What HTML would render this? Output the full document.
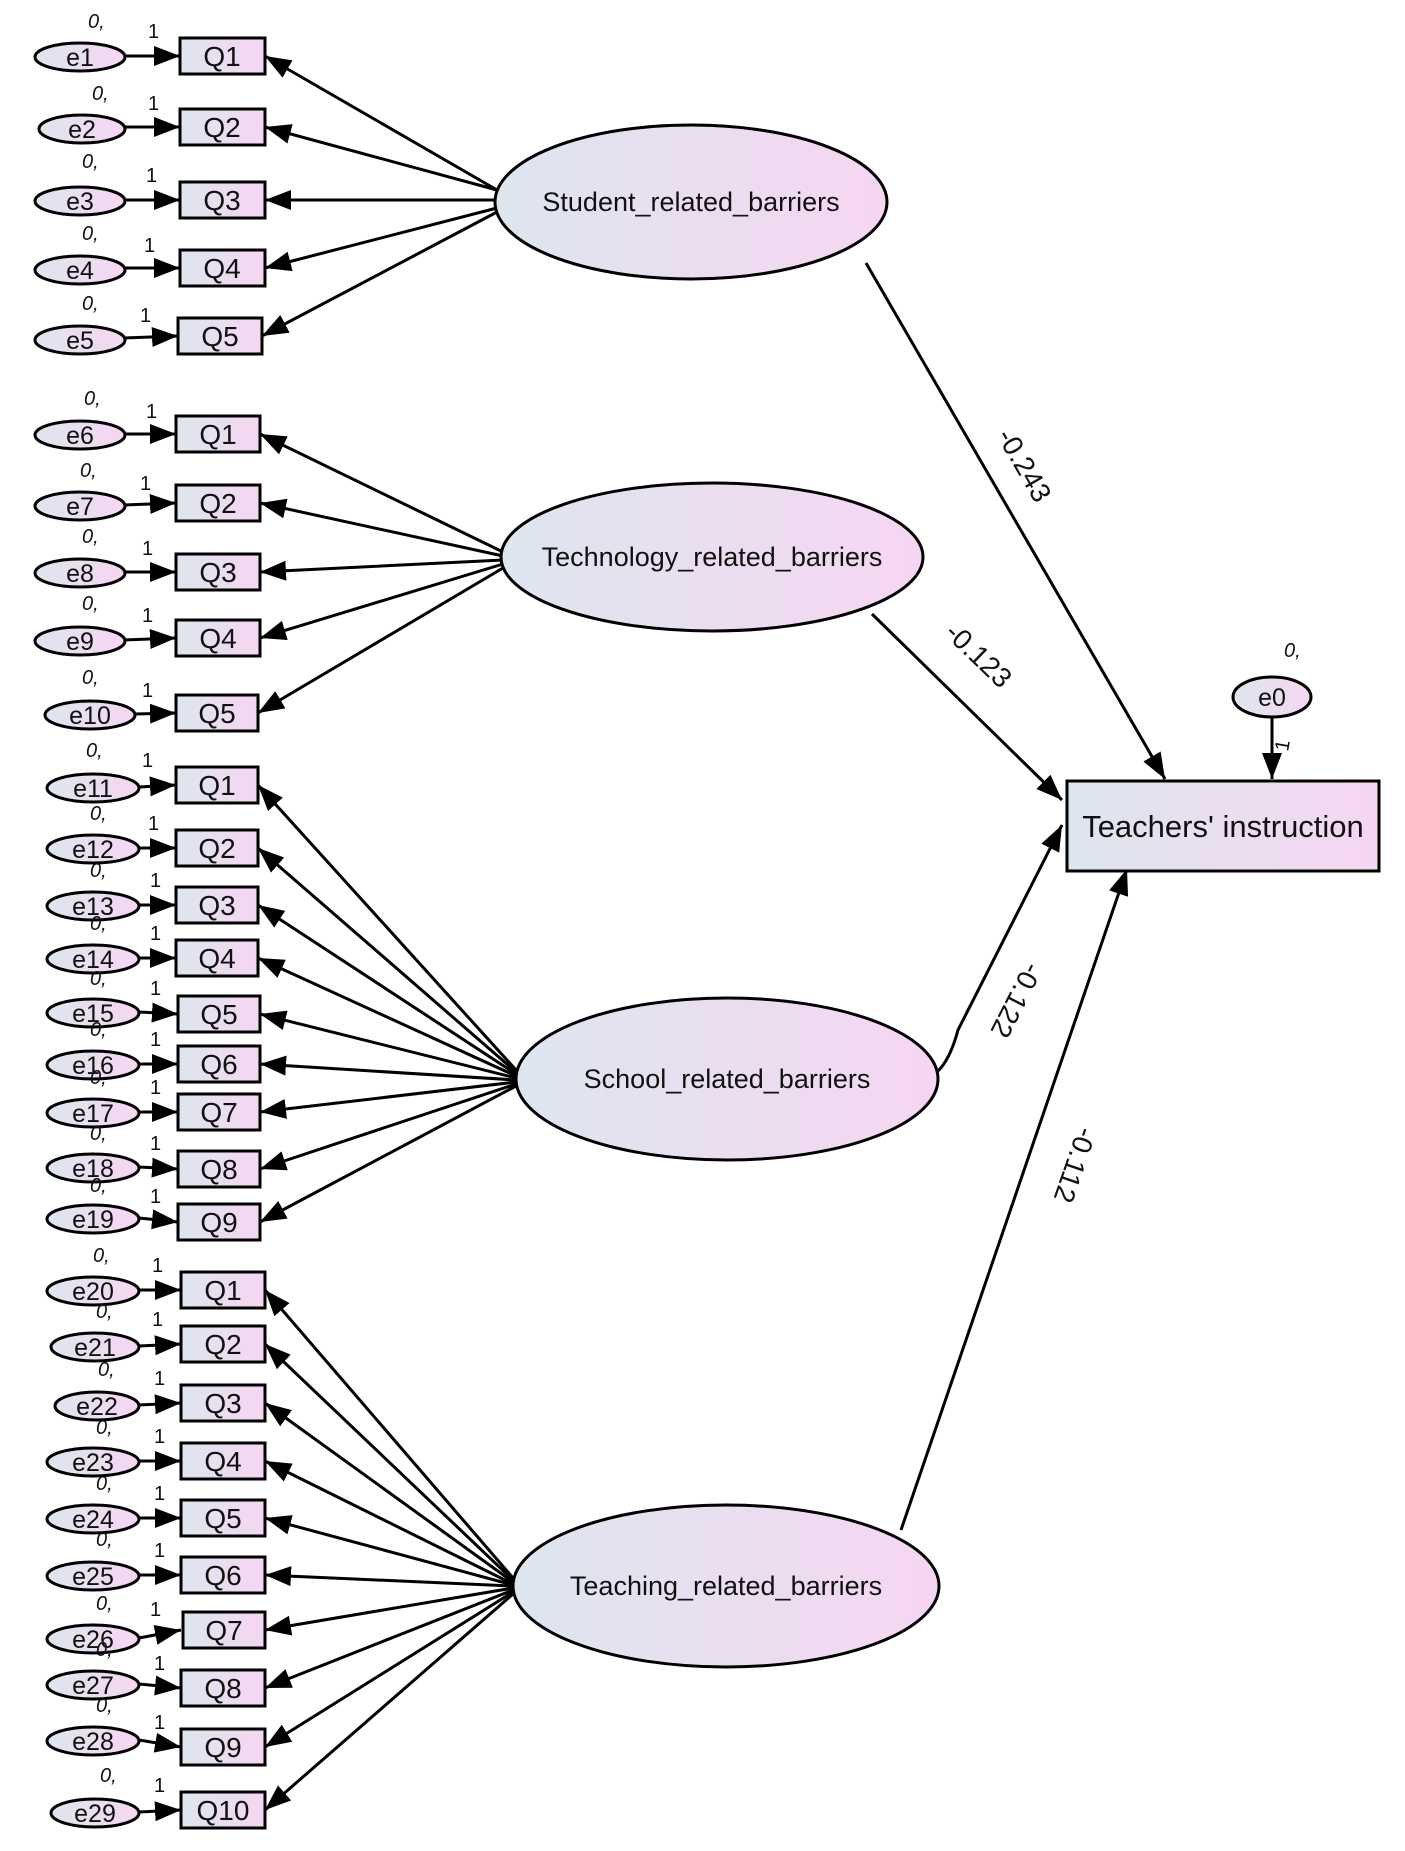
<!DOCTYPE html>
<html><head><meta charset="utf-8"><style>body{margin:0;background:#fff}svg{display:block}text{font-family:"Liberation Sans",sans-serif;fill:#111}</style></head><body>
<svg width="1405" height="1851" viewBox="0 0 1405 1851" xmlns="http://www.w3.org/2000/svg">
<defs>
<linearGradient id="g" x1="0" x2="1" y1="0" y2="0"><stop offset="0" stop-color="#dde6ee"/><stop offset="1" stop-color="#f6d6f2"/></linearGradient>
<marker id="a" markerUnits="userSpaceOnUse" markerWidth="28" markerHeight="22" refX="26" refY="10" orient="auto"><path d="M0,0 L26,10 L0,20 z" fill="#000"/></marker>
</defs>
<g stroke="#000" stroke-width="3" fill="none">
<line x1="497" y1="190" x2="265" y2="56" marker-end="url(#a)"/>
<line x1="497" y1="190" x2="265" y2="127" marker-end="url(#a)"/>
<line x1="497" y1="200" x2="265" y2="200" marker-end="url(#a)"/>
<line x1="497" y1="208" x2="265" y2="268" marker-end="url(#a)"/>
<line x1="497" y1="212" x2="262" y2="336" marker-end="url(#a)"/>
<line x1="503" y1="552" x2="260" y2="434" marker-end="url(#a)"/>
<line x1="503" y1="556" x2="260" y2="503" marker-end="url(#a)"/>
<line x1="503" y1="560" x2="260" y2="572" marker-end="url(#a)"/>
<line x1="503" y1="564" x2="260" y2="638" marker-end="url(#a)"/>
<line x1="503" y1="568" x2="258" y2="713" marker-end="url(#a)"/>
<line x1="516" y1="1070" x2="258" y2="785" marker-end="url(#a)"/>
<line x1="516" y1="1072" x2="258" y2="848" marker-end="url(#a)"/>
<line x1="516" y1="1074" x2="258" y2="905" marker-end="url(#a)"/>
<line x1="516" y1="1076" x2="258" y2="958" marker-end="url(#a)"/>
<line x1="516" y1="1078" x2="260" y2="1014" marker-end="url(#a)"/>
<line x1="516" y1="1080" x2="260" y2="1064" marker-end="url(#a)"/>
<line x1="516" y1="1082" x2="260" y2="1112" marker-end="url(#a)"/>
<line x1="516" y1="1084" x2="260" y2="1169" marker-end="url(#a)"/>
<line x1="516" y1="1086" x2="260" y2="1222" marker-end="url(#a)"/>
<line x1="513" y1="1578" x2="265" y2="1290" marker-end="url(#a)"/>
<line x1="513" y1="1580" x2="265" y2="1344" marker-end="url(#a)"/>
<line x1="513" y1="1582" x2="265" y2="1403" marker-end="url(#a)"/>
<line x1="513" y1="1584" x2="265" y2="1461" marker-end="url(#a)"/>
<line x1="513" y1="1585" x2="265" y2="1518" marker-end="url(#a)"/>
<line x1="513" y1="1586" x2="265" y2="1575" marker-end="url(#a)"/>
<line x1="513" y1="1588" x2="265" y2="1630" marker-end="url(#a)"/>
<line x1="513" y1="1590" x2="265" y2="1688" marker-end="url(#a)"/>
<line x1="513" y1="1592" x2="265" y2="1747" marker-end="url(#a)"/>
<line x1="513" y1="1594" x2="265" y2="1810" marker-end="url(#a)"/>
<line x1="866" y1="263" x2="1165" y2="779" marker-end="url(#a)"/>
<line x1="872" y1="614" x2="1062" y2="800" marker-end="url(#a)"/>
<path d="M937,1072 Q950,1060 958,1030 L1062,825" marker-end="url(#a)"/>
<line x1="901" y1="1530" x2="1127" y2="869" marker-end="url(#a)"/>
<line x1="1272" y1="717" x2="1272" y2="779" marker-end="url(#a)"/>
<line x1="125" y1="56" x2="180" y2="56" marker-end="url(#a)"/>
<line x1="125" y1="127" x2="180" y2="127" marker-end="url(#a)"/>
<line x1="125" y1="200" x2="180" y2="200" marker-end="url(#a)"/>
<line x1="125" y1="268" x2="180" y2="268" marker-end="url(#a)"/>
<line x1="125" y1="338" x2="178" y2="336" marker-end="url(#a)"/>
<line x1="125" y1="434" x2="176" y2="434" marker-end="url(#a)"/>
<line x1="125" y1="505" x2="176" y2="503" marker-end="url(#a)"/>
<line x1="125" y1="572" x2="176" y2="572" marker-end="url(#a)"/>
<line x1="125" y1="640" x2="176" y2="638" marker-end="url(#a)"/>
<line x1="135" y1="714" x2="176" y2="713" marker-end="url(#a)"/>
<line x1="139" y1="787" x2="176" y2="785" marker-end="url(#a)"/>
<line x1="139" y1="848" x2="176" y2="848" marker-end="url(#a)"/>
<line x1="139" y1="905" x2="176" y2="905" marker-end="url(#a)"/>
<line x1="139" y1="958" x2="176" y2="958" marker-end="url(#a)"/>
<line x1="139" y1="1012" x2="178" y2="1014" marker-end="url(#a)"/>
<line x1="139" y1="1064" x2="178" y2="1064" marker-end="url(#a)"/>
<line x1="139" y1="1112" x2="178" y2="1112" marker-end="url(#a)"/>
<line x1="139" y1="1167" x2="178" y2="1169" marker-end="url(#a)"/>
<line x1="139" y1="1218" x2="178" y2="1222" marker-end="url(#a)"/>
<line x1="139" y1="1290" x2="181" y2="1290" marker-end="url(#a)"/>
<line x1="139" y1="1346" x2="181" y2="1344" marker-end="url(#a)"/>
<line x1="139" y1="1405" x2="181" y2="1403" marker-end="url(#a)"/>
<line x1="139" y1="1461" x2="181" y2="1461" marker-end="url(#a)"/>
<line x1="139" y1="1518" x2="181" y2="1518" marker-end="url(#a)"/>
<line x1="139" y1="1575" x2="181" y2="1575" marker-end="url(#a)"/>
<line x1="139" y1="1638" x2="181" y2="1630" marker-end="url(#a)"/>
<line x1="139" y1="1684" x2="181" y2="1688" marker-end="url(#a)"/>
<line x1="139" y1="1740" x2="181" y2="1747" marker-end="url(#a)"/>
<line x1="139" y1="1812" x2="181" y2="1810" marker-end="url(#a)"/>
</g>
<g stroke="#000" stroke-width="3" fill="url(#g)">
<rect x="180" y="38" width="85" height="36"/><rect x="180" y="109" width="85" height="36"/><rect x="180" y="182" width="85" height="36"/><rect x="180" y="250" width="85" height="36"/><rect x="178" y="318" width="84" height="36"/>
<rect x="176" y="416" width="84" height="36"/><rect x="176" y="485" width="84" height="36"/><rect x="176" y="554" width="84" height="36"/><rect x="176" y="620" width="84" height="36"/><rect x="176" y="695" width="82" height="36"/>
<rect x="176" y="767" width="82" height="36"/><rect x="176" y="830" width="82" height="36"/><rect x="176" y="887" width="82" height="36"/><rect x="176" y="940" width="82" height="36"/><rect x="178" y="996" width="82" height="36"/><rect x="178" y="1046" width="82" height="36"/><rect x="178" y="1094" width="82" height="36"/><rect x="178" y="1151" width="82" height="36"/><rect x="178" y="1204" width="82" height="36"/>
<rect x="181" y="1272" width="84" height="36"/><rect x="181" y="1326" width="84" height="36"/><rect x="181" y="1385" width="84" height="36"/><rect x="181" y="1443" width="84" height="36"/><rect x="181" y="1500" width="84" height="36"/><rect x="181" y="1557" width="84" height="36"/><rect x="183" y="1612" width="82" height="36"/><rect x="181" y="1670" width="84" height="36"/><rect x="181" y="1729" width="84" height="36"/><rect x="181" y="1792" width="84" height="36"/>
<rect x="1067" y="781" width="312" height="90"/>
<ellipse cx="691" cy="202" rx="196" ry="77"/>
<ellipse cx="712" cy="557" rx="211" ry="74"/>
<ellipse cx="727" cy="1079" rx="211" ry="81"/>
<ellipse cx="726" cy="1586" rx="213" ry="81"/>
<ellipse cx="1272" cy="697" rx="39" ry="20"/>
<ellipse cx="80" cy="57" rx="45" ry="14"/><ellipse cx="82" cy="129" rx="43" ry="14"/><ellipse cx="80" cy="201" rx="45" ry="14"/><ellipse cx="80" cy="270" rx="45" ry="14"/><ellipse cx="80" cy="340" rx="45" ry="14"/>
<ellipse cx="80" cy="435" rx="45" ry="14"/><ellipse cx="80" cy="506" rx="45" ry="14"/><ellipse cx="80" cy="573" rx="45" ry="14"/><ellipse cx="80" cy="641" rx="45" ry="14"/><ellipse cx="90" cy="715" rx="45" ry="14"/>
<ellipse cx="93" cy="788" rx="46" ry="14"/><ellipse cx="93" cy="849" rx="46" ry="14"/><ellipse cx="93" cy="906" rx="46" ry="14"/><ellipse cx="93" cy="959" rx="46" ry="14"/><ellipse cx="93" cy="1013" rx="46" ry="14"/><ellipse cx="93" cy="1065" rx="46" ry="14"/><ellipse cx="93" cy="1113" rx="46" ry="14"/><ellipse cx="93" cy="1168" rx="46" ry="14"/><ellipse cx="93" cy="1219" rx="46" ry="14"/>
<ellipse cx="93" cy="1291" rx="46" ry="14"/><ellipse cx="95" cy="1347" rx="44" ry="14"/><ellipse cx="97" cy="1406" rx="42" ry="14"/><ellipse cx="93" cy="1462" rx="46" ry="14"/><ellipse cx="93" cy="1519" rx="46" ry="14"/><ellipse cx="93" cy="1576" rx="46" ry="14"/><ellipse cx="93" cy="1639" rx="46" ry="14"/><ellipse cx="93" cy="1685" rx="46" ry="14"/><ellipse cx="93" cy="1741" rx="46" ry="14"/><ellipse cx="95" cy="1813" rx="44" ry="14"/>
</g>
<g font-size="28" text-anchor="middle">
<text x="222" y="66">Q1</text><text x="222" y="137">Q2</text><text x="222" y="210">Q3</text><text x="222" y="278">Q4</text><text x="220" y="346">Q5</text>
<text x="218" y="444">Q1</text><text x="218" y="513">Q2</text><text x="218" y="582">Q3</text><text x="218" y="648">Q4</text><text x="217" y="723">Q5</text>
<text x="217" y="795">Q1</text><text x="217" y="858">Q2</text><text x="217" y="915">Q3</text><text x="217" y="968">Q4</text><text x="219" y="1024">Q5</text><text x="219" y="1074">Q6</text><text x="219" y="1122">Q7</text><text x="219" y="1179">Q8</text><text x="219" y="1232">Q9</text>
<text x="223" y="1300">Q1</text><text x="223" y="1354">Q2</text><text x="223" y="1413">Q3</text><text x="223" y="1471">Q4</text><text x="223" y="1528">Q5</text><text x="223" y="1585">Q6</text><text x="224" y="1640">Q7</text><text x="223" y="1698">Q8</text><text x="223" y="1757">Q9</text><text x="223" y="1820">Q10</text>
<text x="1223" y="837" font-size="31">Teachers' instruction</text>
<text x="691" y="211" font-size="27">Student_related_barriers</text>
<text x="712" y="566" font-size="27">Technology_related_barriers</text>
<text x="727" y="1088" font-size="27">School_related_barriers</text>
<text x="726" y="1595" font-size="27">Teaching_related_barriers</text>
</g>
<g font-size="25" text-anchor="middle">
<text x="1272" y="706">e0</text>
<text x="80" y="66">e1</text><text x="82" y="138">e2</text><text x="80" y="210">e3</text><text x="80" y="279">e4</text><text x="80" y="349">e5</text>
<text x="80" y="444">e6</text><text x="80" y="515">e7</text><text x="80" y="582">e8</text><text x="80" y="650">e9</text><text x="90" y="724">e10</text>
<text x="93" y="797">e11</text><text x="93" y="858">e12</text><text x="93" y="915">e13</text><text x="93" y="968">e14</text><text x="93" y="1022">e15</text><text x="93" y="1074">e16</text><text x="93" y="1122">e17</text><text x="93" y="1177">e18</text><text x="93" y="1228">e19</text>
<text x="93" y="1300">e20</text><text x="95" y="1356">e21</text><text x="97" y="1415">e22</text><text x="93" y="1471">e23</text><text x="93" y="1528">e24</text><text x="93" y="1585">e25</text><text x="93" y="1648">e26</text><text x="93" y="1694">e27</text><text x="93" y="1750">e28</text><text x="95" y="1822">e29</text>
</g>
<g font-size="20" font-style="italic">
<text x="1284" y="657">0,</text>
<text x="88" y="28">0,</text><text x="92" y="100">0,</text><text x="82" y="168">0,</text><text x="82" y="240">0,</text><text x="82" y="310">0,</text>
<text x="84" y="405">0,</text><text x="80" y="477">0,</text><text x="82" y="543">0,</text><text x="82" y="610">0,</text><text x="82" y="684">0,</text>
<text x="86" y="757">0,</text><text x="90" y="820">0,</text><text x="90" y="877">0,</text><text x="90" y="930">0,</text><text x="90" y="985">0,</text><text x="90" y="1036">0,</text><text x="90" y="1084">0,</text><text x="90" y="1140">0,</text><text x="90" y="1192">0,</text>
<text x="93" y="1262">0,</text><text x="96" y="1318">0,</text><text x="98" y="1376">0,</text><text x="96" y="1434">0,</text><text x="96" y="1490">0,</text><text x="96" y="1546">0,</text><text x="96" y="1610">0,</text><text x="96" y="1656">0,</text><text x="96" y="1712">0,</text><text x="100" y="1782">0,</text>
</g>
<g font-size="20">
<text x="148" y="38">1</text><text x="148" y="110">1</text><text x="146" y="182">1</text><text x="144" y="252">1</text><text x="140" y="322">1</text>
<text x="146" y="418">1</text><text x="140" y="490">1</text><text x="142" y="555">1</text><text x="142" y="622">1</text><text x="142" y="697">1</text>
<text x="142" y="767">1</text><text x="148" y="830">1</text><text x="150" y="887">1</text><text x="150" y="940">1</text><text x="150" y="995">1</text><text x="150" y="1046">1</text><text x="150" y="1094">1</text><text x="150" y="1150">1</text><text x="150" y="1203">1</text>
<text x="152" y="1272">1</text><text x="152" y="1326">1</text><text x="154" y="1385">1</text><text x="154" y="1443">1</text><text x="154" y="1500">1</text><text x="154" y="1557">1</text><text x="150" y="1616">1</text><text x="154" y="1670">1</text><text x="154" y="1729">1</text><text x="154" y="1792">1</text>
<text x="1288" y="752" transform="rotate(-80 1288 752)">1</text>
</g>
<g font-size="28" text-anchor="middle">
<text transform="translate(1016,470) rotate(60)">-0.243</text>
<text transform="translate(972,662) rotate(44)">-0.123</text>
<text transform="translate(1008,996) rotate(117)">-0.122</text>
<text transform="translate(1066,1162) rotate(109)">-0.112</text>
</g>
</svg>
</body></html>
